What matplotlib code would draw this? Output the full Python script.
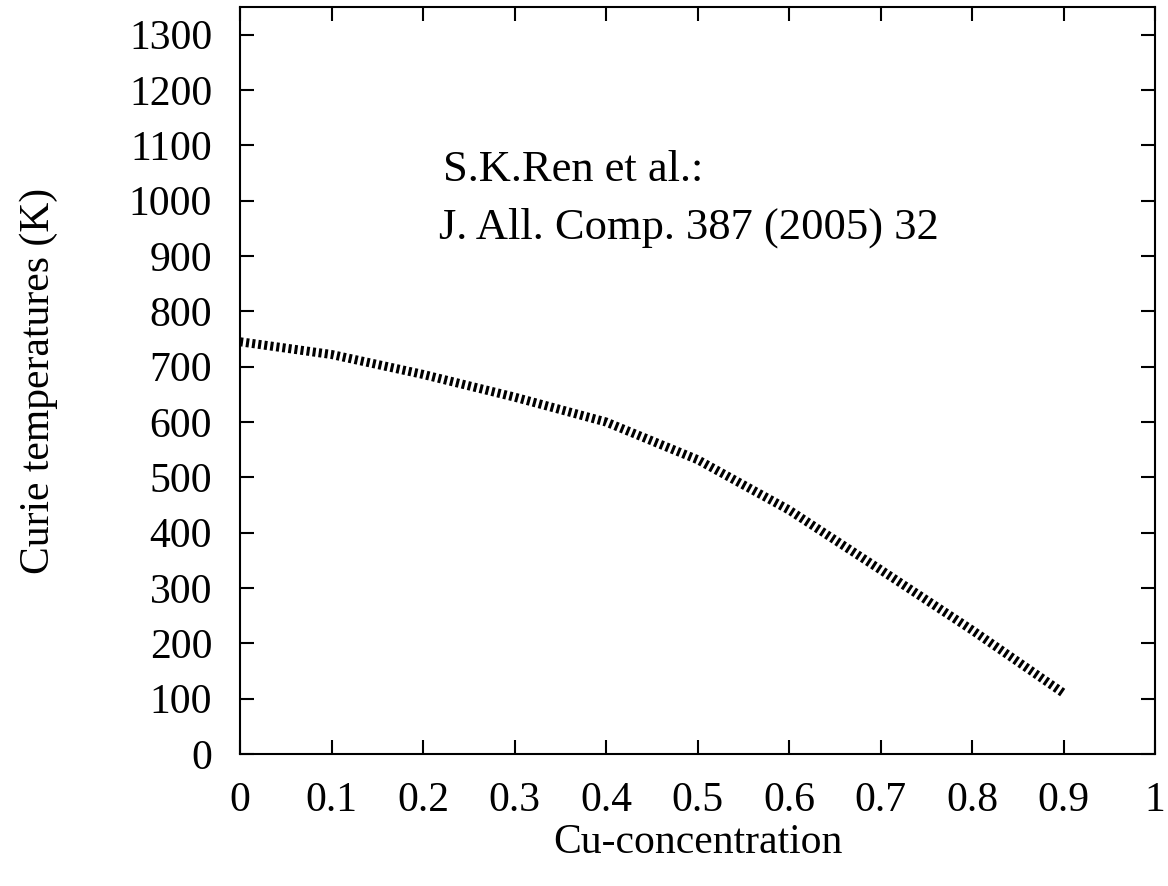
import matplotlib
matplotlib.use("Agg")
import matplotlib.pyplot as plt

# Curie temperature vs Cu concentration
cu_conc = [0.0, 0.1, 0.2, 0.3, 0.4, 0.5, 0.6, 0.7, 0.8, 0.9]
curie_temp = [745, 722, 686, 645, 600, 532, 441, 333, 224, 110]

x_ticks = [0, 0.1, 0.2, 0.3, 0.4, 0.5, 0.6, 0.7, 0.8, 0.9, 1]
x_tick_labels = ["0", "0.1", "0.2", "0.3", "0.4", "0.5", "0.6", "0.7", "0.8", "0.9", "1"]
y_ticks = list(range(0, 1301, 100))

plt.rcParams["font.family"] = ["Liberation Serif", "DejaVu Serif"]
plt.rcParams["lines.scale_dashes"] = False

fig = plt.figure(figsize=(11.68, 8.86), dpi=100)
ax = fig.add_axes([240 / 1168, 1 - 754 / 886, 915 / 1168, 747 / 886])

# thick line with short dashes -> hatched look
ax.plot(cu_conc, curie_temp, color="black", linewidth=6.5,
        dashes=(2.2, 2.2), dash_capstyle="butt", solid_capstyle="butt")

ax.set_xlim(0, 1)
ax.set_ylim(0, 1350)
ax.set_xticks(x_ticks)
ax.set_xticklabels(x_tick_labels)
ax.set_yticks(y_ticks)

ax.tick_params(direction="in", length=10, width=1.5, labelsize=30,
               top=True, right=True, pad=20)
for s in ax.spines.values():
    s.set_linewidth(1.5)

ax.set_xlabel("Cu-concentration", fontsize=30, labelpad=2)
ax.set_ylabel("Curie temperatures (K)", fontsize=30, labelpad=51)

ax.text(0.222, 1056, "S.K.Ren et al.:", fontsize=32, va="center", ha="left")
ax.text(0.218, 951, "J. All. Comp. 387 (2005) 32", fontsize=32, va="center", ha="left")

fig.savefig("out.png", dpi=100)
